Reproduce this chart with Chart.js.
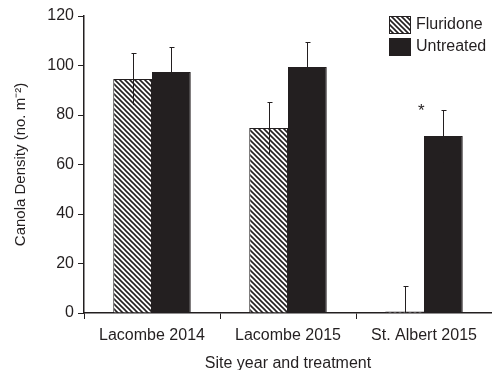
<!DOCTYPE html>
<html>
<head>
<meta charset="utf-8">
<script src="https://cdn.jsdelivr.net/npm/chart.js@4"></script>
<style>
  html, body { margin: 0; padding: 0; background: #fff; }
  #wrap { width: 492px; height: 370px; }
</style>
</head>
<body>
<div id="wrap"><canvas id="densityChart" width="492" height="370"></canvas></div>
<script>
// données
const sites = ['Lacombe 2014', 'Lacombe 2015', 'St. Albert 2015'];
const fluridone = [94.5, 74.7, 0.6];
const fluridoneErr = [10.5, 10.6, 10.3];
const untreated = [97.4, 99.4, 71.5];
const untreatedErr = [10.2, 10.2, 10.5];
const yTicks = [0, 20, 40, 60, 80, 100, 120];
const signif = ['', '', '*'];

const txt = '#231f20';
const fontFam = '"Liberation Sans", Arial, sans-serif';

// motif hachuré
function makeHatch() {
    const c = document.createElement('canvas');
    c.width = 5; c.height = 5;
    const g = c.getContext('2d');
    g.fillStyle = '#fff';
    g.fillRect(0, 0, 5, 5);
    g.strokeStyle = '#231f20';
    g.lineWidth = 1.6;
    g.beginPath();
    g.moveTo(-1, -1); g.lineTo(6, 6);
    g.moveTo(-1, 4); g.lineTo(1, 6);
    g.moveTo(4, -1); g.lineTo(6, 1);
    g.stroke();
    return g.createPattern(c, 'repeat');
}
const hatch = makeHatch();

// barres d'erreur + astérisque + légende
const extras = {
    id: 'extras',
    afterDatasetsDraw(chart) {
        const ctx = chart.ctx;
        const y = chart.scales.y;
        const errs = [fluridoneErr, untreatedErr];
        ctx.save();
        ctx.strokeStyle = txt;
        ctx.lineWidth = 1;
        chart.data.datasets.forEach((ds, di) => {
            chart.getDatasetMeta(di).data.forEach((bar, i) => {
                const v = ds.data[i];
                const top = Math.round(y.getPixelForValue(v + errs[di][i])) + 0.5;
                const bot = y.getPixelForValue(Math.max(0, v - errs[di][i]));
                const x = Math.round(bar.x) + 0.5;
                ctx.beginPath();
                ctx.moveTo(x, top); ctx.lineTo(x, bot);
                ctx.moveTo(x - 2, top); ctx.lineTo(x + 3, top);
                ctx.stroke();
                if (di === 1 && signif[i]) {
                    ctx.fillStyle = txt;
                    ctx.font = '17px ' + fontFam;
                    ctx.textAlign = 'center';
                    ctx.textBaseline = 'middle';
                    ctx.fillText(signif[i], bar.x - 22, top + 1);
                }
            });
        });
        // légende
        const items = [['Fluridone', hatch], ['Untreated', '#231f20']];
        ctx.font = '16px ' + fontFam;
        ctx.textAlign = 'left';
        ctx.textBaseline = 'middle';
        items.forEach((it, k) => {
            const by = 16 + k * 22;
            ctx.fillStyle = it[1];
            ctx.fillRect(389, by, 22, 18);
            ctx.strokeRect(389.5, by + 0.5, 21, 17);
            ctx.fillStyle = txt;
            ctx.fillText(it[0], 416, by + 9);
        });
        ctx.restore();
    }
};

document.addEventListener('DOMContentLoaded', () => {
    const canvas = document.getElementById('densityChart');
    new Chart(canvas, {
        type: 'bar',
        data: {
            labels: sites,
            datasets: [{
                label: 'Fluridone',
                data: fluridone,
                backgroundColor: hatch,
                borderColor: txt,
                borderWidth: 1
            }, {
                label: 'Untreated',
                data: untreated,
                backgroundColor: '#231f20',
                borderColor: txt,
                borderWidth: 1
            }]
        },
        options: {
            responsive: false,
            animation: false,
            devicePixelRatio: 1,
            layout: { padding: { top: 16, right: 0, left: 0, bottom: 0 } },
            categoryPercentage: 0.57,
            barPercentage: 1.0,
            plugins: {
                legend: { display: false },
                tooltip: { enabled: false }
            },
            scales: {
                x: {
                    grid: { drawOnChartArea: false, tickLength: 6, color: txt, offset: true },
                    border: { color: txt, width: 1.5 },
                    ticks: { color: txt, font: { family: fontFam, size: 16 }, padding: 7 },
                    title: {
                        display: true, text: 'Site year and treatment', color: txt,
                        font: { family: fontFam, size: 16 }, padding: { top: 4, bottom: -3 }
                    },
                    afterFit: (s) => { s.height = 57; }
                },
                y: {
                    min: 0, max: 120,
                    afterBuildTicks: (s) => { s.ticks = yTicks.map(v => ({ value: v })); },
                    grid: { drawOnChartArea: false, tickLength: 6, color: txt },
                    border: { color: txt, width: 1.5 },
                    ticks: { color: txt, font: { family: fontFam, size: 16 }, padding: 4 },
                    title: {
                        display: true, text: 'Canola Density (no. m\u207B\u00B2)', color: txt,
                        font: { family: fontFam, size: 15 }, padding: { top: 12, bottom: 4 }
                    },
                    afterFit: (s) => { s.width = 84; }
                }
            }
        },
        plugins: [extras]
    });
});
</script>
</body>
</html>
